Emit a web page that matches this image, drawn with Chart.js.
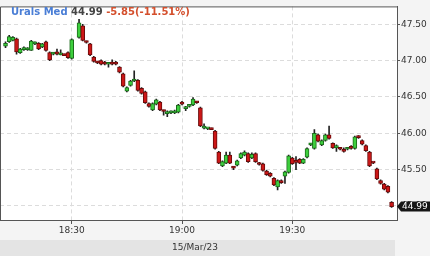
<!DOCTYPE html>
<html><head><meta charset="utf-8">
<script src="https://cdn.jsdelivr.net/npm/chart.js@4.4.0/dist/chart.umd.min.js"></script>
<style>html,body{margin:0;padding:0;background:#f4f4f4;}canvas{display:block;}</style>
</head><body>
<canvas id="c" width="430" height="256"></canvas>
<script>
const symbolName = 'Urals Med';
const lastText = '44.99';
const changeText = '-5.85(-11.51%)';
const dateLabel = '15/Mar/23';
const xTickLabels = ['18:30', '19:00', '19:30'];
const yTickValues = [45.00, 45.50, 46.00, 46.50, 47.00, 47.50];

const times = ['18:12','18:13','18:14','18:15','18:16','18:17','18:18','18:19','18:20','18:21','18:22','18:23','18:24','18:25','18:26','18:27','18:28','18:29','18:30',
'18:32','18:33','18:34','18:35','18:36','18:37','18:38','18:39','18:40','18:41','18:42','18:43','18:44','18:45','18:46','18:47','18:48','18:49','18:50','18:51','18:52','18:53','18:54','18:55','18:56','18:57','18:58','18:59',
'19:00','19:01','19:02','19:03','19:04','19:05','19:06','19:07','19:08','19:09','19:10','19:11','19:12','19:13','19:14','19:15','19:16','19:17','19:18','19:19','19:20','19:21','19:22','19:23','19:24','19:25','19:26','19:27','19:28','19:29',
'19:30','19:31','19:32','19:33','19:34','19:35','19:36','19:37','19:38','19:39','19:40','19:41','19:42','19:43','19:44','19:45','19:46','19:47','19:48','19:49','19:50','19:51','19:52','19:53','19:54','19:55','19:56','19:57'];
const opens = [47.20,47.26,47.28,47.30,47.11,47.15,47.15,47.14,47.23,47.24,47.19,47.26,47.11,47.09,47.12,47.08,47.08,47.11,47.03,
47.32,47.48,47.26,47.23,47.05,46.98,47.00,46.98,46.95,46.98,46.98,46.91,46.82,46.58,46.66,46.72,46.73,46.62,46.57,46.41,46.32,46.40,46.43,46.31,46.27,46.28,46.28,46.29,
46.43,46.34,46.37,46.39,46.43,46.35,46.07,46.06,46.06,46.03,45.74,45.55,45.59,45.70,45.53,45.56,45.66,45.70,45.72,45.66,45.72,45.59,45.58,45.48,45.45,45.38,45.26,45.35,45.41,45.46,
45.66,45.62,45.64,45.59,45.67,45.84,45.79,45.98,45.84,45.90,45.98,45.86,45.80,45.79,45.76,45.78,45.82,45.79,45.95,45.90,45.83,45.74,45.60,45.51,45.35,45.30,45.27,45.05];
const highs = [47.26,47.35,47.33,47.31,47.17,47.19,47.18,47.28,47.26,47.25,47.24,47.27,47.12,47.11,47.16,47.15,47.09,47.12,47.30,
47.57,47.50,47.27,47.24,47.06,46.99,47.01,46.99,46.97,47.01,46.99,46.92,46.83,46.64,46.73,46.86,46.74,46.63,46.58,46.42,46.42,46.47,46.44,46.32,46.31,46.31,46.32,46.40,
46.44,46.37,46.40,46.49,46.44,46.36,46.13,46.07,46.07,46.04,45.75,45.62,45.74,45.74,45.54,45.63,45.73,45.76,45.73,45.73,45.73,45.60,45.59,45.49,45.46,45.39,45.36,45.36,45.48,45.70,
45.67,45.68,45.65,45.65,45.80,45.86,46.05,45.99,45.91,45.99,46.10,45.87,45.84,45.80,45.80,45.80,45.83,45.96,45.97,45.91,45.84,45.75,45.60,45.52,45.36,45.31,45.28,45.06];
const lows = [47.18,47.25,47.27,47.09,47.10,47.14,47.14,47.14,47.22,47.15,47.18,47.13,47.00,47.08,47.08,47.08,47.07,47.03,47.02,
47.31,47.27,47.24,47.07,46.98,46.96,46.94,46.94,46.91,46.94,46.94,46.83,46.64,46.57,46.65,46.71,46.58,46.54,46.41,46.36,46.31,46.39,46.31,46.25,46.23,46.27,46.27,46.28,
46.39,46.31,46.36,46.38,46.41,46.09,46.06,46.05,46.05,45.78,45.58,45.54,45.58,45.58,45.50,45.55,45.65,45.69,45.60,45.65,45.60,45.56,45.48,45.42,45.40,45.28,45.22,45.31,45.31,45.45,
45.57,45.50,45.58,45.58,45.66,45.83,45.78,45.88,45.83,45.89,45.92,45.79,45.75,45.77,45.74,45.77,45.78,45.78,45.93,45.84,45.75,45.54,45.58,45.36,45.30,45.22,45.18,44.98];
const closes = [47.24,47.33,47.32,47.12,47.16,47.18,47.17,47.27,47.25,47.16,47.23,47.14,47.01,47.10,47.09,47.09,47.07,47.04,47.29,
47.52,47.28,47.25,47.08,46.99,46.97,46.95,46.95,46.96,46.95,46.95,46.84,46.65,46.63,46.72,46.73,46.59,46.55,46.42,46.37,46.41,46.46,46.32,46.30,46.30,46.30,46.31,46.39,
46.40,46.35,46.39,46.47,46.42,46.10,46.09,46.07,46.05,45.79,45.59,45.61,45.70,45.59,45.52,45.62,45.72,45.74,45.61,45.71,45.61,45.57,45.49,45.43,45.41,45.29,45.35,45.32,45.47,45.69,
45.58,45.60,45.59,45.64,45.79,45.85,46.00,45.89,45.90,45.98,45.93,45.80,45.83,45.78,45.75,45.79,45.79,45.95,45.94,45.85,45.76,45.55,45.59,45.37,45.31,45.23,45.19,44.99];

const toMin = s => { const p = s.split(':').map(Number); return p[0] * 60 + p[1]; };
const fmtMin = v => { const h = Math.floor(v / 60), m = Math.round(v - h * 60); return h + ':' + String(m).padStart(2, '0'); };
const isUp = i => closes[i] >= opens[i];

const wickData = times.map((t, i) => ({ x: toMin(t), y: [lows[i], highs[i]] }));
const bodyData = times.map((t, i) => ({ x: toMin(t), y: [Math.min(opens[i], closes[i]), Math.max(opens[i], closes[i])] }));

Chart.defaults.font.family = '"DejaVu Sans"';
Chart.defaults.font.size = 9;
Chart.defaults.color = '#333';

const framePlugin = {
  id: 'frame',
  beforeDraw(chart) {
    const { ctx, chartArea: a } = chart;
    ctx.save();
    ctx.fillStyle = '#f4f4f4';
    ctx.fillRect(0, 0, chart.width, chart.height);
    ctx.fillStyle = '#ffffff';
    ctx.fillRect(a.left, a.top, a.right - a.left, a.bottom - a.top);
    ctx.fillStyle = '#e4e4e4';
    ctx.fillRect(0, 240, a.right - 2, 16);
    ctx.fillStyle = '#333';
    ctx.font = '9px "DejaVu Sans"';
    ctx.textAlign = 'center';
    ctx.textBaseline = 'middle';
    ctx.fillText(dateLabel, 195, 247.5);
    ctx.restore();
  },
  afterDraw(chart) {
    const { ctx, chartArea: a, scales } = chart;
    ctx.save();
    ctx.strokeStyle = '#555';
    ctx.lineWidth = 1;
    ctx.beginPath();
    ctx.moveTo(a.left + 0.5, a.bottom);
    ctx.lineTo(a.left + 0.5, a.top + 0.5);
    ctx.lineTo(a.right, a.top + 0.5);
    ctx.stroke();
    // title
    ctx.font = 'bold 10px "DejaVu Sans"';
    ctx.textBaseline = 'alphabetic';
    ctx.textAlign = 'left';
    let x = 11;
    const parts = [[symbolName, '#4a7ed6'], [lastText, '#444444'], [changeText, '#d44f2c']];
    parts.forEach(([t, c]) => {
      ctx.fillStyle = c;
      ctx.fillText(t, x, 15);
      x += ctx.measureText(t + ' ').width;
    });
    // last price tag
    const y = Math.round(scales.y.getPixelForValue(closes[closes.length - 1])) - 0.5;
    ctx.fillStyle = '#151515';
    ctx.beginPath();
    ctx.moveTo(a.right, y);
    ctx.lineTo(a.right + 4, y - 5);
    ctx.lineTo(chart.width, y - 5);
    ctx.lineTo(chart.width, y + 5);
    ctx.lineTo(a.right + 4, y + 5);
    ctx.closePath();
    ctx.fill();
    ctx.fillStyle = '#ffffff';
    ctx.font = '9px "DejaVu Sans"';
    ctx.textBaseline = 'middle';
    ctx.fillText(closes[closes.length - 1].toFixed(2), a.right + 5, y + 0.5);
    ctx.restore();
  }
};

new Chart(document.getElementById('c'), {
  type: 'bar',
  data: {
    datasets: [
      {
        label: 'body',
        data: bodyData,
        order: 1,
        barThickness: 4,
        minBarLength: 2,
        borderWidth: 1,
        borderSkipped: false,
        backgroundColor: ctx => isUp(ctx.dataIndex) ? '#3dcf3d' : '#cc1717',
        borderColor: ctx => isUp(ctx.dataIndex) ? '#1b6a1b' : '#6a0a0a'
      },
      {
        label: 'wick',
        data: wickData,
        order: 2,
        barThickness: 1,
        minBarLength: 1,
        borderWidth: 0,
        backgroundColor: '#222'
      }
    ]
  },
  options: {
    responsive: false,
    animation: false,
    devicePixelRatio: 1,
    layout: { padding: 0 },
    plugins: { legend: { display: false }, tooltip: { enabled: false } },
    datasets: { bar: { grouped: false } },
    scales: {
      x: {
        type: 'linear',
        min: toMin('18:10') + 0.5,
        max: toMin('19:58') + 0.47,
        offset: false,
        grid: { offset: false, color: '#dcdcdc', lineWidth: 1, tickLength: 4, tickColor: '#555', tickBorderDash: [] },
        border: { display: true, color: '#555', width: 1, dash: [4, 3] },
        afterBuildTicks: s => { s.ticks = xTickLabels.map(l => ({ value: toMin(l) })); },
        afterFit: s => { s.height = 36; },
        ticks: { padding: 1, maxRotation: 0, autoSkip: false, color: '#333', callback: v => fmtMin(v) }
      },
      y: {
        type: 'linear',
        position: 'right',
        min: 44.806,
        max: 47.747,
        grid: { color: '#dcdcdc', lineWidth: 1, tickLength: 3, tickColor: '#555', tickBorderDash: [] },
        border: { display: true, color: '#555', width: 1, dash: [4, 3] },
        afterBuildTicks: s => { s.ticks = yTickValues.map(v => ({ value: v })); },
        afterFit: s => { s.width = 33; },
        ticks: { padding: 1, color: '#333', autoSkip: false, callback: v => Number(v).toFixed(2) }
      }
    }
  },
  plugins: [framePlugin]
});
</script>
</body></html>
